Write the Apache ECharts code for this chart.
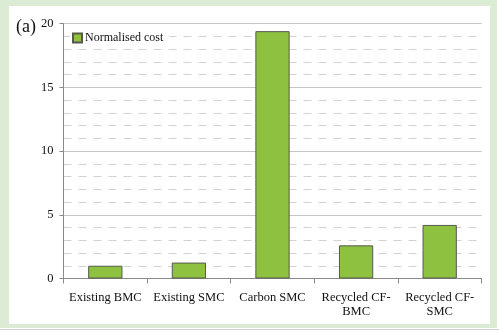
<!DOCTYPE html>
<html>
<head>
<meta charset="utf-8">
<script src="https://cdn.jsdelivr.net/npm/echarts@6/dist/echarts.min.js"></script>
<style>
  html, body { margin: 0; padding: 0; background: #ffffff; }
  #chart { width: 499px; height: 332px; }
</style>
</head>
<body>
<div id="chart"></div>
<script>
// Material categories (two-line names break at the hyphen)
const categories = ['Existing BMC', 'Existing SMC', 'Carbon SMC', 'Recycled CF-\nBMC', 'Recycled CF-\nSMC'];
// Cost of each material, normalised to existing BMC
const normalisedCost = [1.0, 1.25, 19.4, 2.6, 4.2];
const seriesName = 'Normalised cost';
const yTicks = [0, 5, 10, 15, 20];

const SERIF = '"Liberation Serif", "Times New Roman", serif';
const chart = echarts.init(document.getElementById('chart'), null, { renderer: 'canvas' });

chart.setOption({
  animation: false,
  backgroundColor: '#ffffff',
  graphic: [
    // light green frame with white panel inside
    { type: 'rect', z: -10, shape: { x: 0, y: 0, width: 497, height: 328 }, style: { fill: '#dcebd3' }, silent: true },
    { type: 'rect', z: -9, shape: { x: 9, y: 6, width: 481, height: 318 }, style: { fill: '#ffffff' }, silent: true },
    { type: 'line', z: -9, shape: { x1: 0, y1: 329.5, x2: 499, y2: 329.5 }, style: { stroke: '#cfcfcf', lineWidth: 1 }, silent: true },
    // panel tag
    { type: 'text', left: 16, top: 18, style: { text: '(a)', font: '18px ' + SERIF, fill: '#111' } }
  ],
  grid: { left: 63.5, right: 17.5, top: 23.5, bottom: 53.5, containLabel: false },
  legend: {
    left: 70, top: 30,
    itemWidth: 9, itemHeight: 9, itemGap: 4,
    padding: [2, 6, 2, 2],
    backgroundColor: '#ffffff',
    textStyle: { fontFamily: SERIF, fontSize: 12, color: '#111', padding: [0, 0, 0, -2] },
    data: [{ name: seriesName, icon: 'rect' }]
  },
  xAxis: {
    type: 'category',
    data: categories,
    boundaryGap: true,
    axisLine: { lineStyle: { color: '#8a8a8a', width: 1 } },
    axisTick: { show: true, length: 5, lineStyle: { color: '#8a8a8a' } },
    axisLabel: { fontFamily: SERIF, fontSize: 12.5, color: '#111', margin: 12, lineHeight: 14, interval: 0 },
    splitLine: { show: false }
  },
  yAxis: {
    type: 'value',
    min: yTicks[0], max: yTicks[yTicks.length - 1], interval: 5,
    axisLine: { show: true, lineStyle: { color: '#8a8a8a', width: 1 } },
    axisTick: { show: true, length: 4, lineStyle: { color: '#8a8a8a' } },
    axisLabel: { fontFamily: SERIF, fontSize: 12.5, color: '#111', margin: 10 },
    splitLine: { show: true, lineStyle: { color: '#c6c6c6', width: 1 } },
    minorTick: { show: false, splitNumber: 5 },
    minorSplitLine: { show: true, lineStyle: { color: '#d2d2d2', width: 1, type: [8, 7] } }
  },
  series: [{
    name: seriesName,
    type: 'bar',
    data: normalisedCost,
    barWidth: '41%',
    itemStyle: { color: '#8dc13f', borderColor: '#55594f', borderWidth: 1 }
  }]
});
</script>
</body>
</html>
